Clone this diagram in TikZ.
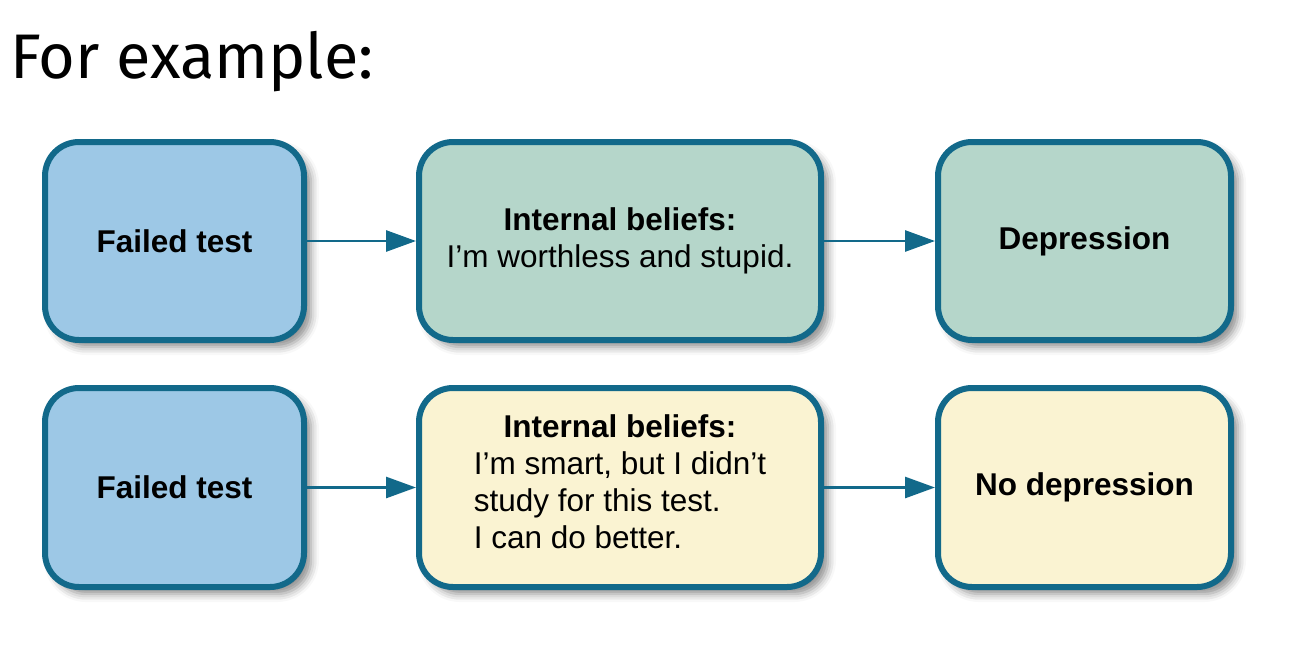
\documentclass[tikz,border=0pt]{standalone}
\usepackage{fontspec}
\setmainfont{Liberation Sans}
\newfontfamily\titlefont{Fira Sans}
\usetikzlibrary{arrows.meta,shadows.blur}
\definecolor{edgeblue}{HTML}{12698A}
\definecolor{fillblue}{HTML}{9DC8E6}
\definecolor{fillgreen}{HTML}{B5D6CA}
\definecolor{fillyellow}{HTML}{FAF3D2}
\tikzset{
  box/.style={draw=edgeblue, line width=6pt, rounded corners=34pt, align=center,
    font=\fontsize{31.5}{37}\selectfont, text=black,
    blur shadow={shadow xshift=7pt, shadow yshift=-7pt, shadow blur radius=8pt, shadow opacity=45}},
  conn/.style={draw=edgeblue, line width=2.8pt, -{Triangle[length=30pt,width=21pt]}}
}
\begin{document}
\begin{tikzpicture}[x=1pt,y=-1pt]
\useasboundingbox (0,0) rectangle (1300,664);
\node[anchor=base west, font=\titlefont\fontsize{63}{72}\selectfont, inner sep=0pt] (title) at (10,78) {For example:};

\node[box, fill=fillblue, minimum width=259pt, minimum height=198pt] (a1) at (174.5,241) {\textbf{Failed test}};
\node[box, fill=fillgreen, minimum width=402pt, minimum height=198pt] (b1) at (620,241) {\textbf{Internal beliefs:}\\I’m worthless and stupid.};
\node[box, fill=fillgreen, minimum width=293pt, minimum height=198pt] (c1) at (1084.5,241) {\textbf{Depression}};

\node[box, fill=fillblue, minimum width=259pt, minimum height=199pt] (a2) at (174.5,487.5) {\textbf{Failed test}};
\node[box, fill=fillyellow, minimum width=402pt, minimum height=199pt] (b2) at (620,487.5) {\textbf{Internal beliefs:}\\\begin{tabular}[t]{@{}l@{}}I’m smart, but I didn’t\\study for this test.\\I can do better.\end{tabular}};
\node[box, fill=fillyellow, minimum width=293pt, minimum height=199pt] (c2) at (1084.5,487.5) {\textbf{No depression}};

\draw[conn] (a1.east) -- (b1.west);
\draw[conn] (b1.east) -- (c1.west);
\draw[conn] (a2.east) -- (b2.west);
\draw[conn] (b2.east) -- (c2.west);
\end{tikzpicture}
\end{document}
